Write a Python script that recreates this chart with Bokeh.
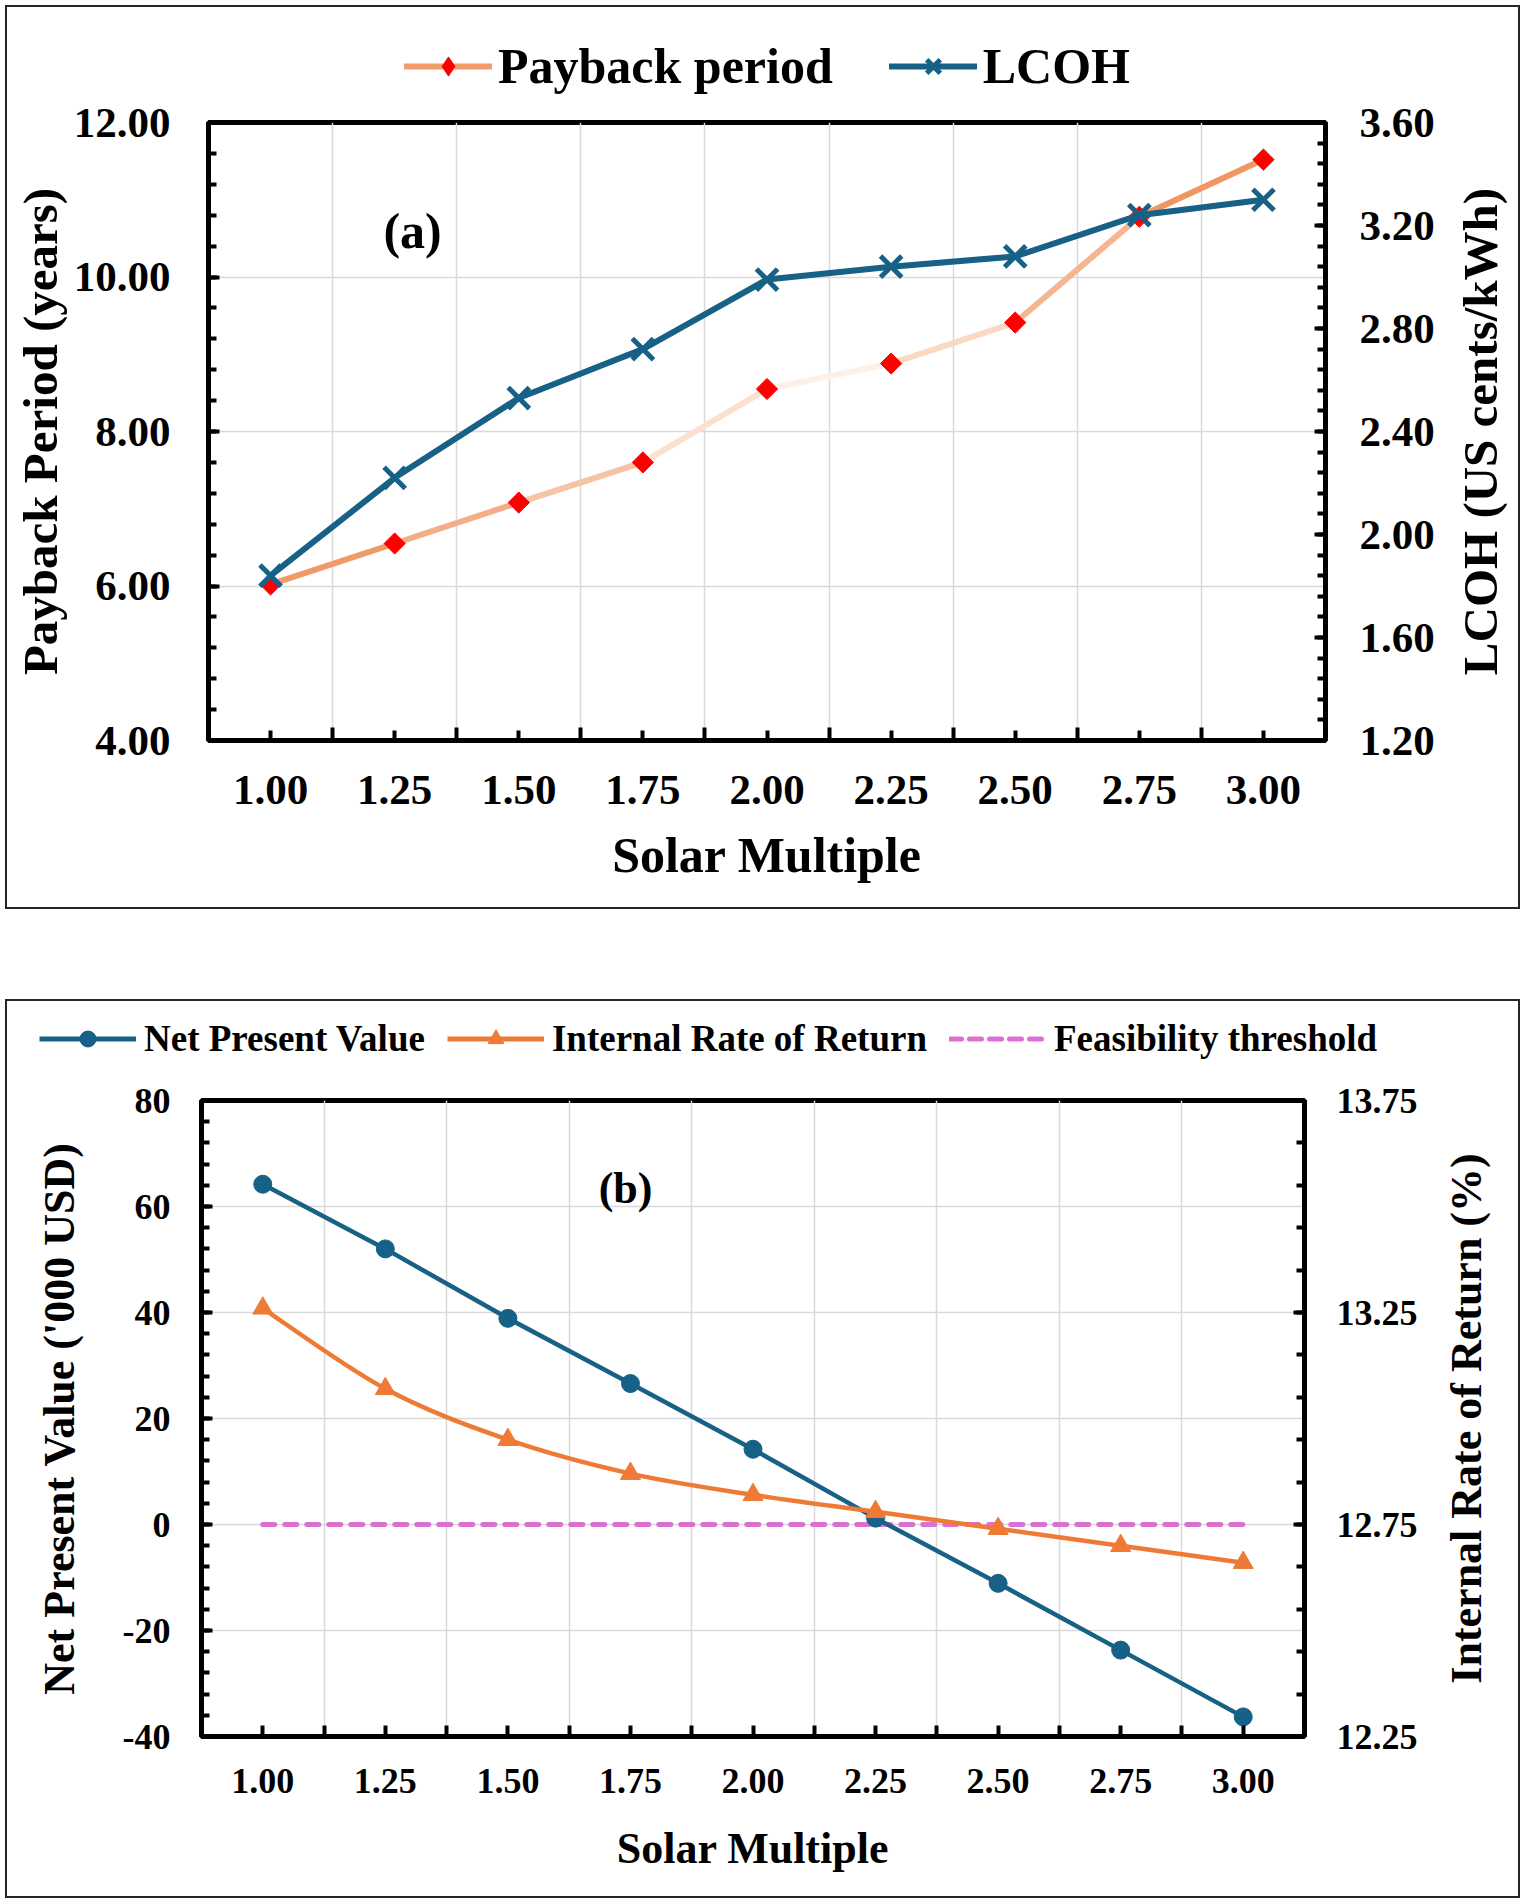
import numpy as np
from bokeh.plotting import figure
from bokeh.models import (Range1d, LinearAxis, FixedTicker, NumeralTickFormatter,
                          Legend, LegendItem, Label, Spacer)
from bokeh.layouts import column, row
from bokeh.embed import file_html
from bokeh.resources import INLINE

# ---------------- data ----------------
solar_multiple = [1.00, 1.25, 1.50, 1.75, 2.00, 2.25, 2.50, 2.75, 3.00]
payback_years = [6.02, 6.55, 7.08, 7.60, 8.55, 8.88, 9.41, 10.78, 11.52]
lcoh_us_cents_kwh = [1.84, 2.22, 2.53, 2.72, 2.99, 3.04, 3.08, 3.24, 3.30]

npv_k_usd = [64.2, 52.0, 38.9, 26.6, 14.2, 1.2, -11.1, -23.7, -36.3]
irr_percent = [13.26, 13.07, 12.95, 12.87, 12.82, 12.78, 12.74, 12.70, 12.66]
feasibility_npv = [0, 0, 0, 0, 0, 0, 0, 0, 0]

payback_ticks = [4, 6, 8, 10, 12]
lcoh_ticks = [1.2, 1.6, 2.0, 2.4, 2.8, 3.2, 3.6]
npv_ticks = [-40, -20, 0, 20, 40, 60, 80]
irr_ticks = [12.25, 12.75, 13.25, 13.75]

# ---------------- styles ----------------
FONT = "Liberation Serif, serif"
TEAL = "#176086"
ORANGE = "#EE7A35"
ORCHID = "#DB6FD2"
GRID = "#D9D9D9"
PAYBACK_SEG_COLORS = ["#F09A68", "#F3AE87", "#F6C3A5", "#FBE0D0",
                      "#FDF0E8", "#F9D8C4", "#F4B590", "#EF9661"]
BOX = {"border": "2px solid #262626"}
NO_POINT = np.array([np.nan])   # legend proxy glyphs draw nothing in the frame

boundaries = [1.125 + 0.25 * i for i in range(8)]


def style_axis(ax, tick_px, title_px, lab_so, tit_so, maj_in, min_in):
    ax.axis_line_width = 5
    ax.axis_line_color = "black"
    ax.major_tick_in = maj_in
    ax.major_tick_out = 0
    ax.minor_tick_in = min_in
    ax.minor_tick_out = 0
    ax.major_tick_line_width = 4
    ax.minor_tick_line_width = 4
    ax.major_tick_line_color = "black"
    ax.minor_tick_line_color = "black"
    ax.major_label_text_font = FONT
    ax.major_label_text_font_style = "bold"
    ax.major_label_text_font_size = f"{tick_px}px"
    ax.major_label_text_color = "black"
    ax.axis_label_text_font = FONT
    ax.axis_label_text_font_style = "bold"
    ax.axis_label_text_font_size = f"{title_px}px"
    ax.axis_label_text_color = "black"
    ax.major_label_standoff = lab_so
    ax.axis_label_standoff = tit_so


def catmull_bezier(xs, ys):
    n = len(xs)
    out = {k: [] for k in ("x0", "y0", "x1", "y1", "cx0", "cy0", "cx1", "cy1")}
    for i in range(n - 1):
        i0, i3 = max(i - 1, 0), min(i + 2, n - 1)
        out["x0"].append(xs[i]); out["y0"].append(ys[i])
        out["x1"].append(xs[i + 1]); out["y1"].append(ys[i + 1])
        out["cx0"].append(xs[i] + (xs[i + 1] - xs[i0]) / 6)
        out["cy0"].append(ys[i] + (ys[i + 1] - ys[i0]) / 6)
        out["cx1"].append(xs[i + 1] - (xs[i3] - xs[i]) / 6)
        out["cy1"].append(ys[i + 1] - (ys[i3] - ys[i]) / 6)
    return out


def blank_fig(w, h):
    f = figure(width=w, height=h, output_backend="svg", toolbar_location=None,
               x_axis_type=None, y_axis_type=None, x_range=Range1d(0, w),
               y_range=Range1d(0, 1), min_border=0)
    f.outline_line_color = None
    f.background_fill_color = "white"
    f.border_fill_color = "white"
    f.grid.visible = False
    return f


def side_title(w, h, text, cx, px):
    f = blank_fig(w, h)
    f.add_layout(Label(x=cx, y=0.5, text=text, angle=np.pi / 2, text_font=FONT,
                       text_font_style="bold", text_font_size=f"{px}px",
                       text_color="black", text_align="center",
                       text_baseline="middle"))
    return f


def legend_model(items, px, gw, gh, standoff, spacing, location, margin):
    return Legend(items=items, orientation="horizontal", location=location,
                  label_text_font=FONT, label_text_font_style="bold",
                  label_text_font_size=px, label_text_color="black",
                  glyph_width=gw, glyph_height=gh, label_standoff=standoff,
                  spacing=spacing, padding=0, margin=margin,
                  border_line_color=None, background_fill_alpha=0)


# ================= (a) =================
leg_fig1 = blank_fig(1511, 87)
leg_fig1.min_border_top = 30
leg_fig1.min_border_left = 9
pl_line = leg_fig1.line(NO_POINT, NO_POINT, line_color="#F29C6B", line_width=6,
                        line_cap="round")
pl_pts = leg_fig1.scatter(NO_POINT, NO_POINT, marker="diamond", size=15,
                          fill_color="#FF0000", line_color="#FF0000")
ll_line = leg_fig1.line(NO_POINT, NO_POINT, line_color=TEAL, line_width=6,
                        line_cap="round")
ll_pts = leg_fig1.scatter(NO_POINT, NO_POINT, marker="x", size=30, line_color=TEAL,
                          line_width=5)
leg_fig1.add_layout(legend_model(
    [LegendItem(label="Payback period", renderers=[pl_line, pl_pts]),
     LegendItem(label="LCOH", renderers=[ll_line, ll_pts])],
    "50px", 88, 48, 6, 56, "center", 0))

p1 = figure(width=1438, height=813, output_backend="svg", toolbar_location=None,
            x_range=Range1d(0.875, 3.125), y_range=Range1d(4, 12),
            min_border_left=201, min_border_right=120, min_border_top=28,
            min_border_bottom=167)
p1.outline_line_color = "black"
p1.outline_line_width = 5
p1.background_fill_color = "white"
p1.border_fill_color = "white"
p1.extra_y_ranges = {"lcoh": Range1d(1.2, 3.6)}

p1.xaxis.ticker = FixedTicker(ticks=solar_multiple, minor_ticks=boundaries)
p1.xaxis.formatter = NumeralTickFormatter(format="0.00")
p1.xaxis.axis_label = "Solar Multiple"
style_axis(p1.xaxis[0], 43, 50, 35, 20, 10, 13)

p1.yaxis.ticker = FixedTicker(ticks=payback_ticks,
                              minor_ticks=list(np.arange(4, 12.001, 0.4)))
p1.yaxis.formatter = NumeralTickFormatter(format="0.00")
p1.yaxis.axis_label = "Payback Period (years)"
style_axis(p1.yaxis[0], 43, 49, 38, 3, 11, 8)

ax_r1 = LinearAxis(y_range_name="lcoh",
                   ticker=FixedTicker(ticks=lcoh_ticks,
                                      minor_ticks=list(np.arange(1.2, 3.601, 0.08))),
                   formatter=NumeralTickFormatter(format="0.00"))
style_axis(ax_r1, 43, 49, 34, 10, 11, 8)
p1.add_layout(ax_r1, "right")

p1.xgrid.ticker = FixedTicker(ticks=boundaries)
p1.xgrid.grid_line_color = GRID
p1.xgrid.grid_line_width = 1.5
p1.ygrid.ticker = FixedTicker(ticks=payback_ticks)
p1.ygrid.grid_line_color = GRID
p1.ygrid.grid_line_width = 1.5

p1.segment(x0=solar_multiple[:-1], y0=payback_years[:-1],
           x1=solar_multiple[1:], y1=payback_years[1:],
           line_color=PAYBACK_SEG_COLORS, line_width=6, line_cap="round")
p1.scatter(solar_multiple, payback_years, marker="square", angle=np.pi / 4,
           size=15, fill_color="#FF0000", line_color="#FF0000")
p1.line(solar_multiple, lcoh_us_cents_kwh, y_range_name="lcoh",
        line_color=TEAL, line_width=6)
p1.scatter(solar_multiple, lcoh_us_cents_kwh, y_range_name="lcoh",
           marker="x", size=30, line_color=TEAL, line_width=5)

p1.add_layout(Label(x=1.286, y=10.6, text="(a)", text_font=FONT,
                    text_font_style="bold", text_font_size="50px", text_color="black",
                    text_align="center", text_baseline="middle"))

t1 = side_title(73, 813, "LCOH (US cents/kWh)", 35, 49)
box1 = column(leg_fig1, row(p1, t1), styles=BOX)

# ================= (b) =================
leg_fig2 = blank_fig(1511, 77)
leg_fig2.min_border_left = 22
leg_fig2.min_border_bottom = 3
n_line = leg_fig2.line(NO_POINT, NO_POINT, line_color=TEAL, line_width=5)
n_pts = leg_fig2.scatter(NO_POINT, NO_POINT, marker="circle", size=18,
                         fill_color=TEAL, line_color=TEAL)
i_line = leg_fig2.line(NO_POINT, NO_POINT, line_color=ORANGE, line_width=5)
i_pts = leg_fig2.scatter(NO_POINT, NO_POINT, marker="triangle", size=20,
                         fill_color=ORANGE, line_color=ORANGE)
f_line = leg_fig2.line(NO_POINT, NO_POINT, line_color=ORCHID, line_width=5,
                       line_dash="12 8", line_cap="round")
leg_fig2.add_layout(legend_model(
    [LegendItem(label="Net Present Value", renderers=[n_line, n_pts]),
     LegendItem(label="Internal Rate of Return", renderers=[i_line, i_pts]),
     LegendItem(label="Feasibility threshold", renderers=[f_line])],
    "37px", 97, 40, 8, 22, "center_left", 10))

p2 = figure(width=1423, height=818, output_backend="svg", toolbar_location=None,
            x_range=Range1d(0.875, 3.125), y_range=Range1d(-40, 80),
            min_border_left=194, min_border_right=126, min_border_top=22,
            min_border_bottom=160)
p2.outline_line_color = "black"
p2.outline_line_width = 5
p2.background_fill_color = "white"
p2.border_fill_color = "white"
p2.extra_y_ranges = {"irr": Range1d(12.25, 13.75)}

p2.xaxis.ticker = FixedTicker(ticks=solar_multiple, minor_ticks=boundaries)
p2.xaxis.formatter = NumeralTickFormatter(format="0.00")
p2.xaxis.axis_label = "Solar Multiple"
style_axis(p2.xaxis[0], 36, 44, 32, 28, 11, 11)

p2.yaxis.ticker = FixedTicker(ticks=npv_ticks,
                              minor_ticks=list(np.arange(-40, 80.001, 4)))
p2.yaxis.formatter = NumeralTickFormatter(format="0")
p2.yaxis.axis_label = "Net Present Value ('000 USD)"
style_axis(p2.yaxis[0], 36, 44, 31, 36, 11, 8)

ax_r2 = LinearAxis(y_range_name="irr",
                   ticker=FixedTicker(ticks=irr_ticks,
                                      minor_ticks=list(np.arange(12.25, 13.7501, 0.1))),
                   formatter=NumeralTickFormatter(format="0.00"))
style_axis(ax_r2, 36, 44, 32, 10, 11, 8)
p2.add_layout(ax_r2, "right")

p2.xgrid.ticker = FixedTicker(ticks=boundaries)
p2.xgrid.grid_line_color = GRID
p2.xgrid.grid_line_width = 1.5
p2.ygrid.ticker = FixedTicker(ticks=npv_ticks)
p2.ygrid.grid_line_color = GRID
p2.ygrid.grid_line_width = 1.5

p2.line(solar_multiple, feasibility_npv, line_color=ORCHID, line_width=5,
        line_dash="12 10", line_cap="round")
p2.line(solar_multiple, npv_k_usd, line_color=TEAL, line_width=4.5)
p2.scatter(solar_multiple, npv_k_usd, marker="circle", size=18,
           fill_color=TEAL, line_color=TEAL)
bz = catmull_bezier(solar_multiple, irr_percent)
p2.bezier(x0=bz["x0"], y0=bz["y0"], x1=bz["x1"], y1=bz["y1"],
          cx0=bz["cx0"], cy0=bz["cy0"], cx1=bz["cx1"], cy1=bz["cy1"],
          y_range_name="irr", line_color=ORANGE, line_width=4.5, line_cap="round")
p2.scatter(solar_multiple, irr_percent, y_range_name="irr", marker="triangle",
           size=20, fill_color=ORANGE, line_color=ORANGE)

p2.add_layout(Label(x=1.74, y=63.4, text="(b)", text_font=FONT,
                    text_font_style="bold", text_font_size="44px", text_color="black",
                    text_align="center", text_baseline="middle"))

t2 = side_title(88, 818, "Internal Rate of Return (%)", 36, 44)
box2 = column(leg_fig2, row(p2, t2), styles=BOX)

layout = column(Spacer(height=5),
                row(Spacer(width=5), box1),
                Spacer(height=90),
                row(Spacer(width=5), box2))
open("out.html", "w").write(file_html(layout, INLINE))
